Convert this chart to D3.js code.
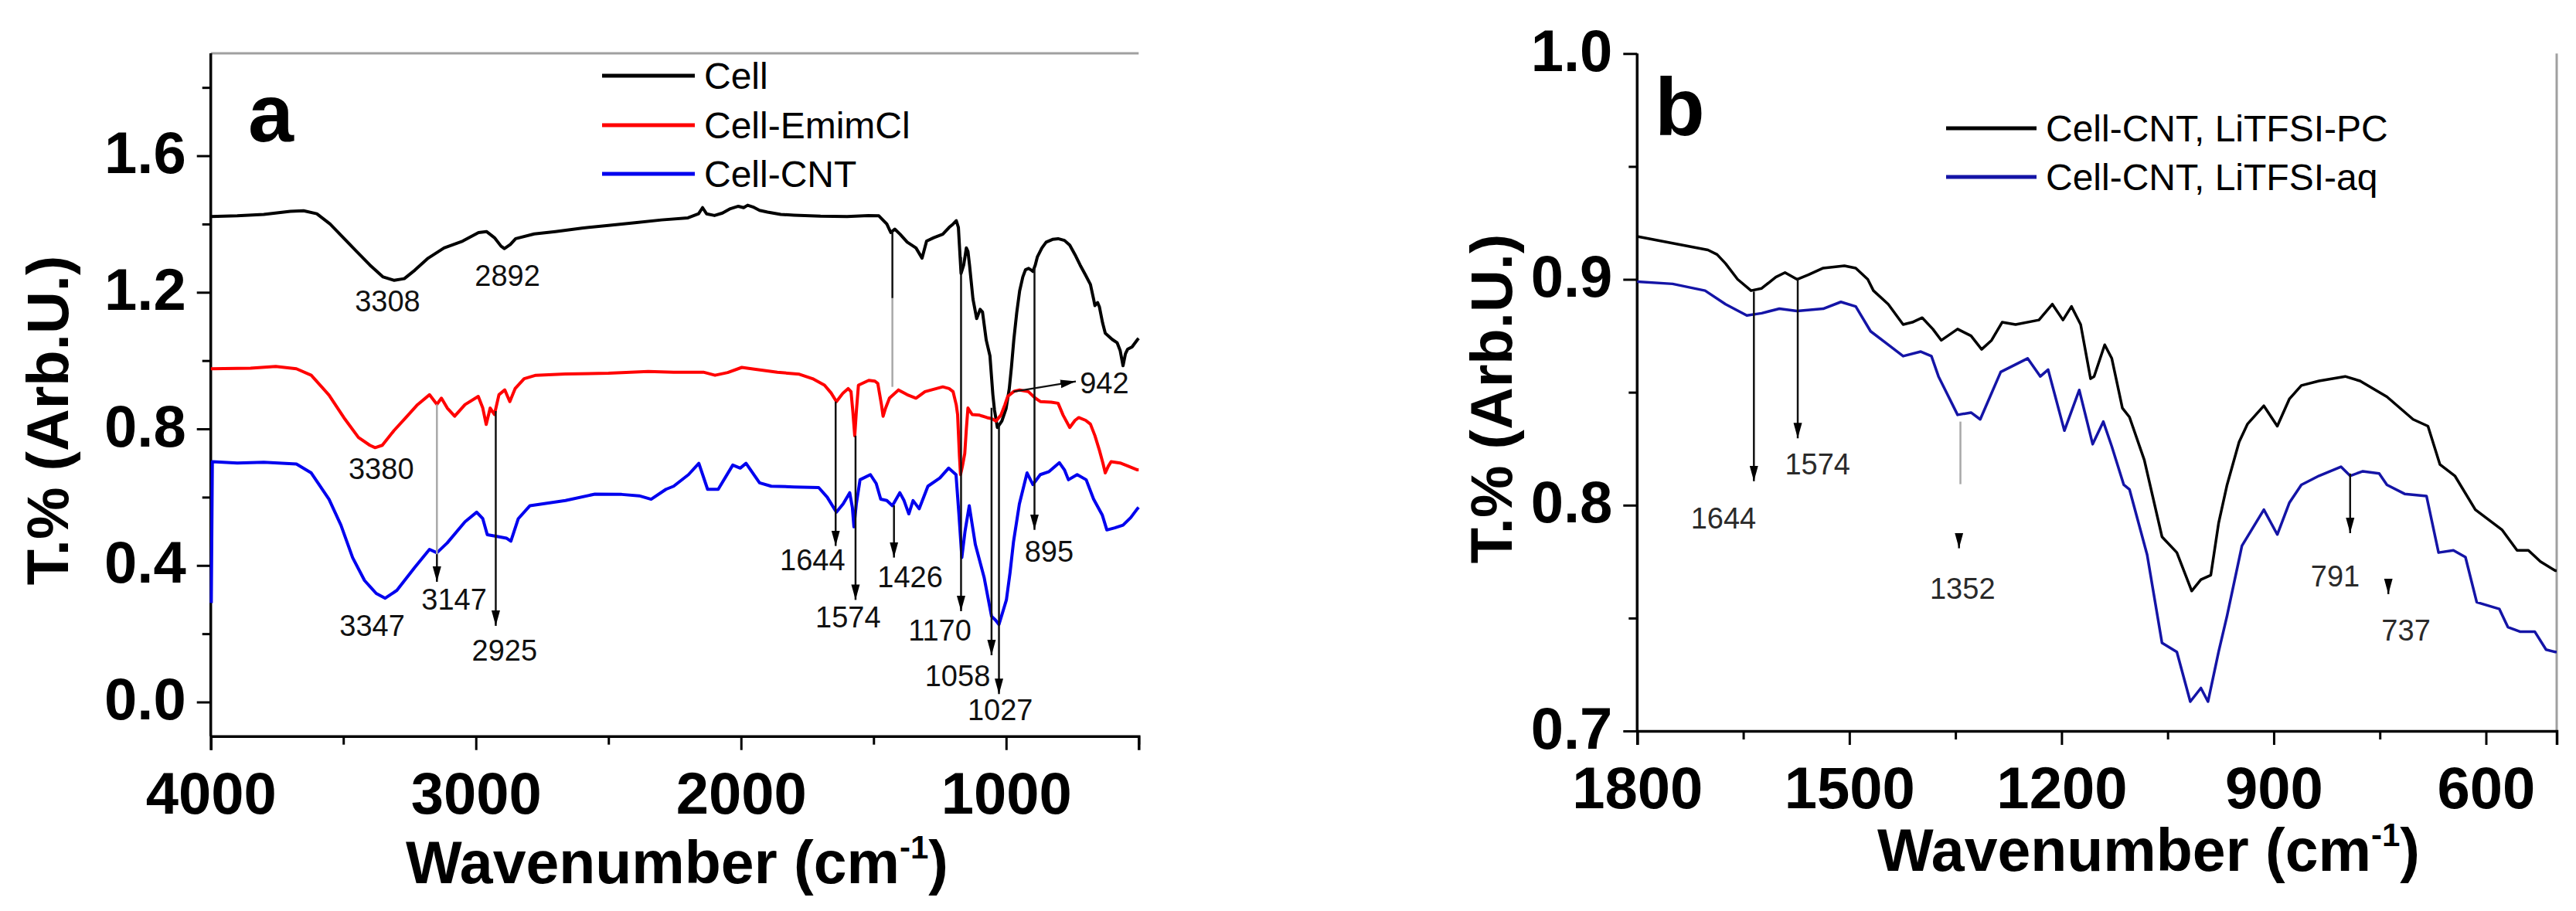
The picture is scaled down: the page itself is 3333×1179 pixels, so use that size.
<!DOCTYPE html>
<html>
<head>
<meta charset="utf-8">
<script src="https://cdn.jsdelivr.net/npm/d3@7"></script>
<style>
  body { margin: 0; background: #fff; }
  svg { display: block; font-family: "Liberation Sans", Arial, sans-serif; }
</style>
</head>
<body>
<svg id="chart" width="3333" height="1179"></svg>
<script>
// ---- panel a : FTIR spectra [wavenumber, T%] ----
const cell = [[4000,1.422],[3900,1.424],[3800,1.428],[3700,1.437],[3650,1.439],[3600,1.43],[3550,1.40],[3500,1.36],[3450,1.32],[3400,1.28],[3350,1.245],[3308,1.235],[3270,1.24],[3230,1.265],[3180,1.30],[3120,1.33],[3050,1.35],[2990,1.375],[2960,1.378],[2930,1.36],[2905,1.335],[2892,1.328],[2870,1.34],[2850,1.357],[2780,1.371],[2700,1.378],[2600,1.388],[2500,1.396],[2400,1.404],[2300,1.412],[2200,1.418],[2160,1.43],[2145,1.448],[2130,1.43],[2100,1.425],[2070,1.432],[2040,1.445],[2010,1.452],[1990,1.448],[1975,1.455],[1955,1.45],[1930,1.44],[1900,1.435],[1850,1.428],[1800,1.426],[1700,1.423],[1600,1.422],[1520,1.425],[1480,1.424],[1450,1.40],[1435,1.375],[1420,1.385],[1400,1.37],[1373,1.347],[1340,1.33],[1317,1.30],[1300,1.35],[1273,1.36],[1239,1.37],[1215,1.39],[1200,1.40],[1188,1.41],[1180,1.39],[1170,1.255],[1160,1.28],[1150,1.33],[1144,1.32],[1138,1.28],[1125,1.18],[1111,1.123],[1098,1.15],[1089,1.142],[1075,1.06],[1061,1.014],[1050,0.90],[1044,0.856],[1033,0.804],[1016,0.823],[1000,0.86],[988,0.918],[980,0.98],[971,1.061],[960,1.14],[949,1.204],[937,1.245],[927,1.266],[915,1.27],[905,1.265],[899,1.261],[890,1.28],[882,1.304],[865,1.33],[849,1.347],[825,1.355],[804,1.357],[780,1.352],[760,1.338],[740,1.31],[721,1.28],[700,1.25],[682,1.223],[670,1.18],[665,1.161],[655,1.17],[648,1.157],[636,1.11],[626,1.08],[600,1.062],[581,1.052],[570,1.03],[559,0.985],[550,1.02],[542,1.033],[525,1.04],[505,1.061],[500,1.065]];

const cellEmim = [[4000,0.976],[3850,0.978],[3755,0.983],[3677,0.976],[3621,0.957],[3554,0.899],[3498,0.833],[3443,0.775],[3400,0.752],[3380,0.745],[3353,0.752],[3309,0.795],[3264,0.833],[3220,0.871],[3175,0.90],[3155,0.88],[3147,0.872],[3130,0.89],[3108,0.861],[3080,0.837],[3041,0.871],[2991,0.895],[2974,0.861],[2961,0.813],[2946,0.861],[2930,0.842],[2913,0.90],[2891,0.914],[2872,0.88],[2852,0.918],[2818,0.947],[2774,0.957],[2662,0.961],[2500,0.963],[2350,0.968],[2254,0.966],[2142,0.966],[2098,0.957],[2050,0.965],[1997,0.98],[1950,0.975],[1863,0.966],[1780,0.96],[1730,0.947],[1685,0.928],[1660,0.905],[1640,0.88],[1615,0.905],[1596,0.918],[1585,0.909],[1578,0.85],[1571,0.78],[1565,0.85],[1557,0.928],[1518,0.942],[1495,0.94],[1484,0.933],[1470,0.87],[1464,0.837],[1455,0.86],[1440,0.89],[1406,0.914],[1373,0.90],[1340,0.89],[1306,0.909],[1239,0.923],[1215,0.918],[1200,0.909],[1188,0.87],[1183,0.842],[1176,0.72],[1172,0.666],[1165,0.69],[1156,0.728],[1150,0.80],[1144,0.861],[1128,0.842],[1100,0.84],[1072,0.833],[1055,0.83],[1038,0.823],[1020,0.84],[1005,0.87],[994,0.895],[970,0.91],[949,0.914],[916,0.909],[890,0.89],[871,0.88],[830,0.878],[804,0.875],[785,0.84],[760,0.804],[740,0.825],[726,0.833],[700,0.825],[682,0.814],[665,0.78],[648,0.737],[635,0.70],[626,0.671],[615,0.69],[604,0.704],[570,0.70],[537,0.69],[505,0.68],[500,0.68]];

const cellCnt = [[3998,0.29],[3994,0.704],[3900,0.70],[3800,0.702],[3677,0.697],[3621,0.671],[3554,0.594],[3509,0.518],[3465,0.423],[3420,0.356],[3376,0.318],[3342,0.304],[3298,0.327],[3231,0.394],[3175,0.447],[3147,0.437],[3108,0.466],[3041,0.528],[2997,0.556],[2974,0.537],[2957,0.49],[2920,0.485],[2885,0.48],[2868,0.471],[2840,0.537],[2796,0.575],[2662,0.59],[2551,0.609],[2450,0.608],[2384,0.604],[2339,0.594],[2283,0.623],[2254,0.632],[2198,0.666],[2159,0.699],[2126,0.623],[2086,0.623],[2031,0.694],[2003,0.685],[1981,0.699],[1930,0.642],[1886,0.632],[1800,0.63],[1707,0.628],[1675,0.60],[1640,0.556],[1615,0.58],[1590,0.613],[1580,0.57],[1574,0.513],[1565,0.58],[1551,0.651],[1512,0.666],[1490,0.64],[1473,0.594],[1450,0.59],[1429,0.575],[1401,0.613],[1385,0.59],[1367,0.551],[1351,0.59],[1328,0.566],[1295,0.632],[1250,0.656],[1217,0.685],[1189,0.666],[1178,0.55],[1167,0.423],[1155,0.50],[1139,0.575],[1128,0.52],[1116,0.461],[1083,0.365],[1055,0.251],[1040,0.24],[1027,0.227],[999,0.299],[985,0.38],[972,0.47],[950,0.58],[921,0.671],[899,0.637],[871,0.666],[838,0.675],[799,0.701],[780,0.68],[765,0.651],[732,0.666],[698,0.651],[670,0.594],[637,0.547],[620,0.504],[590,0.51],[559,0.518],[530,0.54],[505,0.566],[500,0.57]];

// ---- panel b ----
const cntPC = [[1800,0.919],[1750,0.916],[1700,0.913],[1687,0.911],[1675,0.907],[1658,0.900],[1639,0.895],[1624,0.896],[1604,0.901],[1591,0.903],[1574,0.900],[1558,0.902],[1537,0.905],[1507,0.906],[1491,0.905],[1474,0.900],[1466,0.895],[1445,0.889],[1424,0.880],[1411,0.881],[1397,0.883],[1382,0.878],[1370,0.873],[1347,0.878],[1328,0.875],[1313,0.869],[1299,0.873],[1284,0.881],[1265,0.880],[1232,0.882],[1213,0.889],[1198,0.882],[1186,0.888],[1173,0.880],[1159,0.856],[1154,0.857],[1139,0.871],[1129,0.865],[1114,0.843],[1104,0.839],[1083,0.820],[1058,0.786],[1037,0.779],[1016,0.762],[1003,0.767],[989,0.769],[978,0.792],[966,0.809],[949,0.828],[937,0.836],[914,0.844],[895,0.835],[878,0.847],[861,0.853],[836,0.855],[799,0.857],[778,0.855],[740,0.848],[703,0.838],[682,0.835],[665,0.818],[644,0.813],[615,0.798],[577,0.789],[556,0.780],[540,0.780],[523,0.775],[502,0.771],[500,0.771]];

const cntAq = [[1800,0.899],[1750,0.898],[1704,0.895],[1675,0.889],[1645,0.884],[1624,0.885],[1599,0.887],[1574,0.886],[1537,0.887],[1512,0.890],[1491,0.888],[1470,0.877],[1449,0.872],[1424,0.866],[1399,0.868],[1384,0.866],[1374,0.857],[1347,0.840],[1328,0.841],[1315,0.838],[1286,0.859],[1248,0.865],[1230,0.857],[1219,0.860],[1196,0.833],[1175,0.851],[1156,0.827],[1141,0.837],[1129,0.826],[1112,0.809],[1104,0.807],[1079,0.778],[1058,0.739],[1037,0.735],[1018,0.713],[1003,0.719],[993,0.713],[978,0.735],[966,0.751],[945,0.782],[914,0.798],[895,0.787],[878,0.801],[861,0.809],[836,0.813],[805,0.817],[792,0.813],[774,0.815],[751,0.814],[740,0.809],[715,0.805],[684,0.804],[667,0.779],[646,0.780],[629,0.777],[613,0.757],[581,0.754],[569,0.746],[552,0.744],[531,0.744],[515,0.736],[502,0.735],[500,0.735]];

// axis ticks
const aMajorX = [4000, 3000, 2000, 1000];
const aMinorX = [3500, 2500, 1500, 500];
const aMajorY = [0.0, 0.4, 0.8, 1.2, 1.6];
const aMinorY = [0.2, 0.6, 1.0, 1.4, 1.8];
const bMajorX = [1800, 1500, 1200, 900, 600];
const bMinorX = [1650, 1350, 1050, 750];
const bMajorY = [0.7, 0.8, 0.9, 1.0];
const bMinorY = [0.75, 0.85, 0.95];

// peak annotations: [wavenumber, from T, to T]
const aArrows = [[3147,0.433,0.352],[2925,0.852,0.223],[1423,0.576,0.423],[1643,0.88,0.457],[1568,0.78,0.299],[1170,1.303,0.266],[1055,0.862,0.137],[1027,0.814,0.023],[893,1.272,0.504]];
const aGuides = [[3147,0.872,0.433],[1429,1.183,0.923]];
const aPlain = [[1429,1.379,1.183]];
const aSlanted = [[972,0.909,737,0.939]];
const aLabels = [["3308",3333,1.143],["2892",2881,1.219],["3380",3357,0.652],["3347",3391,0.194],["3147",3082,0.271],["2925",2892,0.12],["1644",1730,0.385],["1426",1362,0.337],["1574",1596,0.218],["1170",1250,0.18],["1058",1183,0.047],["1027",1022,-0.053],["895",838,0.411]];
const aSideLabels = [["942",722,0.905]];

const bArrows = [[1635,0.8946,0.8106],[1573,0.9002,0.8296],[792,0.814,0.7876],[1345,0.7876,0.7809],[738,0.7674,0.7606]];
const bGuides = [[1343,0.837,0.8093]];
const bLabels = [["1644",1678,0.7897],["1574",1545,0.8136],["1352",1340,0.7586],["791",813,0.764],["737",713,0.74]];

const svg = d3.select("#chart");
const FONT = "'Liberation Sans', Arial, sans-serif";

svg.append("defs").append("marker")
  .attr("id", "head")
  .attr("markerUnits", "userSpaceOnUse")
  .attr("viewBox", "0 -6 20 12")
  .attr("refX", 20).attr("refY", 0)
  .attr("markerWidth", 20).attr("markerHeight", 12)
  .attr("orient", "auto")
  .append("path").attr("d", "M0,-5.5L20,0L0,5.5Z").attr("fill", "#000");

function drawPanel(p) {
  const g = svg.append("g");
  const x = d3.scaleLinear().domain(p.xDomain).range([p.left, p.right]);
  const y = d3.scaleLinear().domain(p.yDomain).range([p.bottom, p.top]);

  //frame pieces in light gray
  p.frame.forEach(f => {
    g.append("line").attr("x1", f[0]).attr("y1", f[1]).attr("x2", f[2]).attr("y2", f[3])
      .attr("stroke", "#a0a0a0").attr("stroke-width", 3);
  });

  //minor ticks first, then the major ones with labels
  const yMinor = g.append("g").attr("transform", `translate(${p.left},0)`)
    .call(d3.axisLeft(y).tickValues(p.minorY).tickSize(11).tickFormat(""));
  const yMajor = g.append("g").attr("transform", `translate(${p.left},0)`)
    .call(d3.axisLeft(y).tickValues(p.majorY).tickSize(18).tickPadding(14).tickFormat(d3.format(".1f")));
  const xMinor = g.append("g").attr("transform", `translate(0,${p.bottom})`)
    .call(d3.axisBottom(x).tickValues(p.minorX).tickSize(11).tickFormat(""));
  const xMajor = g.append("g").attr("transform", `translate(0,${p.bottom})`)
    .call(d3.axisBottom(x).tickValues(p.majorX).tickSize(18).tickPadding(10).tickFormat(d3.format("d")));

  [yMinor, yMajor, xMinor, xMajor].forEach(a => {
    a.selectAll("path.domain").attr("stroke", "#000").attr("stroke-width", 3.5);
    a.selectAll(".tick line").attr("stroke", "#000").attr("stroke-width", 3);
    a.selectAll("text").attr("font-family", FONT).attr("font-weight", "bold")
      .attr("font-size", 76).attr("fill", "#000");
  });
  yMajor.selectAll("path.domain").attr("d", `M0,${p.bottom}V${p.top}`);
  yMinor.selectAll("path.domain").remove();
  xMinor.selectAll("path.domain").remove();
  yMajor.selectAll("text").attr("dy", "0.29em");
  xMajor.selectAll("text").attr("dy", "0.95em");

  const line = d3.line().x(d => x(d[0])).y(d => y(d[1])).curve(d3.curveLinear);
  p.series.forEach(s => {
    g.append("path").datum(s.data).attr("d", line)
      .attr("fill", "none").attr("stroke", s.color).attr("stroke-width", s.width)
      .attr("stroke-linejoin", "round");
  });

  //annotations
  p.guides.forEach(d => {
    g.append("line").attr("x1", x(d[0])).attr("x2", x(d[0])).attr("y1", y(d[1])).attr("y2", y(d[2]))
      .attr("stroke", "#a8a8a8").attr("stroke-width", 2.5);
  });
  (p.plain || []).forEach(d => {
    g.append("line").attr("x1", x(d[0])).attr("x2", x(d[0])).attr("y1", y(d[1])).attr("y2", y(d[2]))
      .attr("stroke", "#111").attr("stroke-width", 2.5);
  });
  p.arrows.forEach(d => {
    g.append("line").attr("x1", x(d[0])).attr("x2", x(d[0])).attr("y1", y(d[1])).attr("y2", y(d[2]))
      .attr("stroke", "#111").attr("stroke-width", 2.5).attr("marker-end", "url(#head)");
  });
  (p.slanted || []).forEach(d => {
    g.append("line").attr("x1", x(d[0])).attr("y1", y(d[1])).attr("x2", x(d[2])).attr("y2", y(d[3]))
      .attr("stroke", "#111").attr("stroke-width", 2.5).attr("marker-end", "url(#head)");
  });
  p.labels.forEach(d => {
    g.append("text").attr("x", x(d[1])).attr("y", y(d[2])).text(d[0])
      .attr("text-anchor", "middle").attr("font-family", FONT).attr("font-size", 38)
      .attr("fill", p.labelColor);
  });
  (p.sideLabels || []).forEach(d => {
    g.append("text").attr("x", x(d[1])).attr("y", y(d[2])).text(d[0])
      .attr("text-anchor", "start").attr("font-family", FONT).attr("font-size", 38)
      .attr("fill", p.labelColor);
  });

  //legend
  p.legend.forEach((item, i) => {
    const ly = p.legendY[i];
    g.append("line").attr("x1", p.legendX[0]).attr("x2", p.legendX[1]).attr("y1", ly).attr("y2", ly)
      .attr("stroke", item.color).attr("stroke-width", 5);
    g.append("text").attr("x", p.legendX[1] + 12).attr("y", ly + 17).text(item.name)
      .attr("font-family", FONT).attr("font-size", 48).attr("fill", "#000");
  });

  //panel letter
  g.append("text").attr("x", p.letterPos[0]).attr("y", p.letterPos[1]).text(p.letter)
    .attr("font-family", FONT).attr("font-weight", "bold").attr("font-size", 106);

  //axis titles
  g.append("text").attr("transform", `translate(${p.yTitlePos[0]},${p.yTitlePos[1]}) rotate(-90)`)
    .attr("text-anchor", "middle").attr("font-family", FONT).attr("font-weight", "bold")
    .attr("font-size", 76).text("T.% (Arb.U.)");
  const xt = g.append("text").attr("x", p.xTitlePos[0]).attr("y", p.xTitlePos[1])
    .attr("text-anchor", "middle").attr("font-family", FONT).attr("font-weight", "bold")
    .attr("font-size", 77);
  xt.append("tspan").text("Wavenumber (cm");
  xt.append("tspan").attr("font-size", 42).attr("dy", -32).text("-1");
  xt.append("tspan").attr("dy", 32).text(")");
}

drawPanel({
  xDomain: [4000, 500], yDomain: [-0.1, 1.9],
  left: 272.7, right: 1473.3, top: 69, bottom: 952.7,
  frame: [[272.7, 69, 1473.3, 69]],
  majorX: aMajorX, minorX: aMinorX, majorY: aMajorY, minorY: aMinorY,
  series: [
    { data: cell, color: "#000000", width: 4 },
    { data: cellEmim, color: "#ff0000", width: 4 },
    { data: cellCnt, color: "#0000ee", width: 4 }
  ],
  guides: aGuides, plain: aPlain, arrows: aArrows, slanted: aSlanted,
  labels: aLabels, sideLabels: aSideLabels, labelColor: "#111",
  legend: [{ name: "Cell", color: "#000" }, { name: "Cell-EmimCl", color: "#ff0000" }, { name: "Cell-CNT", color: "#0000ee" }],
  legendX: [779, 899], legendY: [98, 162, 225],
  letter: "a", letterPos: [321, 183],
  yTitlePos: [88, 544], xTitlePos: [876, 1143]
});

drawPanel({
  xDomain: [1800, 500], yDomain: [0.7, 1.0],
  left: 2118.3, right: 3308, top: 69.3, bottom: 946,
  frame: [[3308, 69.3, 3308, 946]],
  majorX: bMajorX, minorX: bMinorX, majorY: bMajorY, minorY: bMinorY,
  series: [
    { data: cntPC, color: "#000000", width: 3.5 },
    { data: cntAq, color: "#1414a6", width: 3.5 }
  ],
  guides: bGuides, arrows: bArrows,
  labels: bLabels, labelColor: "#2a2a2a",
  legend: [{ name: "Cell-CNT, LiTFSI-PC", color: "#000" }, { name: "Cell-CNT, LiTFSI-aq", color: "#1414a6" }],
  legendX: [2518, 2635], legendY: [166, 229],
  letter: "b", letterPos: [2141, 175],
  yTitlePos: [1956, 516], xTitlePos: [2780, 1127]
});
</script>
</body>
</html>
